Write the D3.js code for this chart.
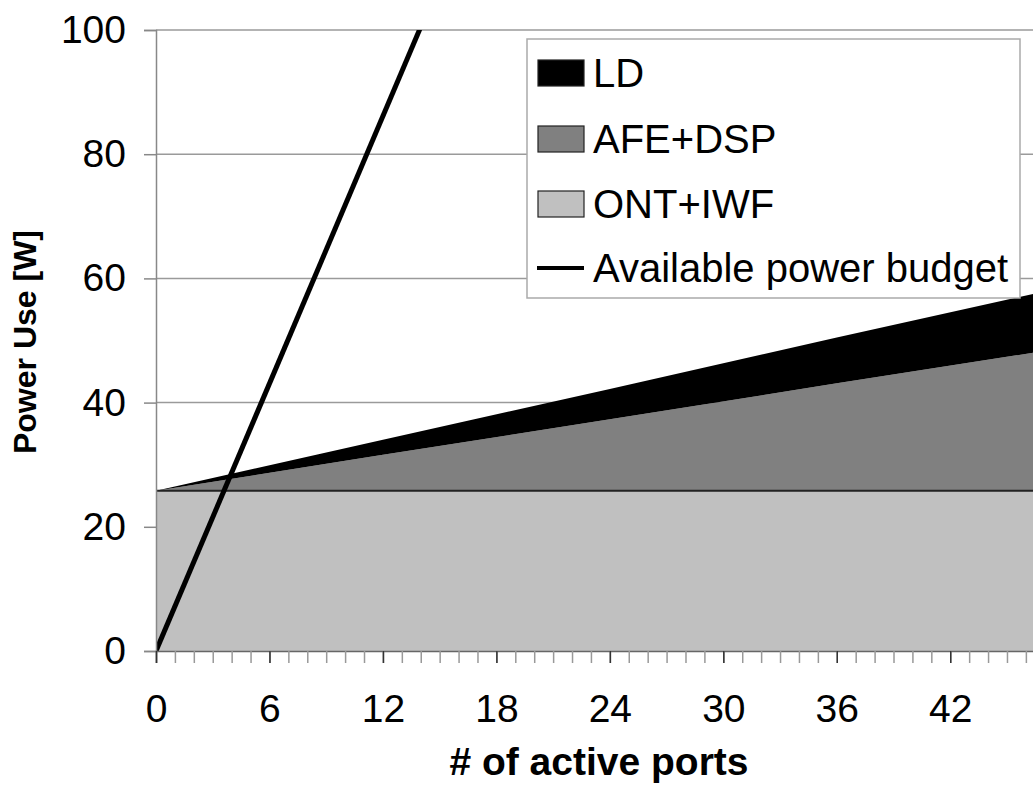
<!DOCTYPE html>
<html>
<head>
<meta charset="utf-8">
<title>Power use vs active ports</title>
<style>
  body { margin: 0; background: #fff; }
  svg { display: block; font-family: "Liberation Sans", Arial, sans-serif; }
</style>
<script src="https://cdn.jsdelivr.net/npm/d3@7"></script>
</head>
<body>
<svg id="chart" width="1033" height="787"></svg>
<script>
// values
var ports  = [0, 12, 24, 36, 48];
var ontIwf = [25.8, 25.8, 25.8, 25.8, 25.8];
var afeDsp = [0, 5.8, 11.5, 17.3, 23.0];
var ld     = [0, 2.4, 4.9, 7.4, 9.8];
var budgetPorts = [0, 14];
var budget      = [0, 100.5];
var xTicks = [0, 6, 12, 18, 24, 30, 36, 42];
var yTicks = [0, 20, 40, 60, 80, 100];
var legendNames  = ["LD", "AFE+DSP", "ONT+IWF", "Available power budget"];
var legendColors = ["#000000", "#808080", "#c0c0c0"];

var svg = d3.select("#chart");
var x = d3.scaleLinear().domain([0, 48]).range([156, 1063.7]);
var y = d3.scaleLinear().domain([0, 100]).range([651, 30]);

svg.append("clipPath").attr("id", "plot")
  .append("rect").attr("x", 156).attr("y", 30).attr("width", 910).attr("height", 621);

// gridlines
svg.append("g").selectAll("line").data(yTicks.slice(1)).join("line")
  .attr("x1", 156).attr("x2", 1033)
  .attr("y1", d => y(d)).attr("y2", d => y(d))
  .attr("stroke", "#9a9a9a").attr("stroke-width", 1.5);

// stacked areas
var rows = ports.map((p, i) => ({ p: p, ont: ontIwf[i], afe: afeDsp[i], ld: ld[i] }));
var stack = d3.stack().keys(["ont", "afe", "ld"])(rows);
var area = d3.area().x(d => x(d.data.p)).y0(d => y(d[0])).y1(d => y(d[1]));
var fills = { ont: "#c0c0c0", afe: "#808080", ld: "#000000" };

var g = svg.append("g").attr("clip-path", "url(#plot)");
g.selectAll("path.area").data(stack).join("path")
  .attr("class", "area")
  .attr("fill", d => fills[d.key])
  .attr("d", area);

// dark edge on top of ONT+IWF
g.append("path")
  .attr("fill", "none").attr("stroke", "#222").attr("stroke-width", 2)
  .attr("d", d3.line().x(d => x(d.data.p)).y(d => y(d[1]))(stack[0]));

// available power budget
g.append("path")
  .attr("fill", "none").attr("stroke", "#000").attr("stroke-width", 5)
  .attr("d", d3.line()(budgetPorts.map((p, i) => [x(p), y(budget[i])])));

// y axis
var yAxis = svg.append("g").attr("transform", "translate(156,0)")
  .call(d3.axisLeft(y).tickValues(yTicks).tickSize(12).tickPadding(18));
yAxis.select(".domain").attr("stroke", "#888").attr("stroke-width", 1.5);
yAxis.selectAll(".tick line").attr("stroke", "#888").attr("stroke-width", 1.5);
yAxis.selectAll("text").attr("font-size", 39).attr("fill", "#000")
  .attr("font-family", "Liberation Sans, Arial, sans-serif");

// x axis: minor ticks every port, labels every 6
var xMinor = svg.append("g").attr("transform", "translate(0,651)")
  .call(d3.axisBottom(x).tickValues(d3.range(0, 49)).tickSize(12).tickFormat(""));
xMinor.select(".domain").attr("stroke", "#666").attr("stroke-width", 1.5);
xMinor.selectAll(".tick line").attr("stroke", "#999").attr("stroke-width", 1.5);

var xAxis = svg.append("g").attr("transform", "translate(0,651)")
  .call(d3.axisBottom(x).tickValues(xTicks).tickSize(12).tickPadding(31));
xAxis.select(".domain").remove();
xAxis.selectAll(".tick line").attr("stroke", "#333").attr("stroke-width", 1.5);
xAxis.selectAll("text").attr("font-size", 39).attr("fill", "#000")
  .attr("font-family", "Liberation Sans, Arial, sans-serif");

// titles
svg.append("text")
  .attr("x", 599).attr("y", 775).attr("text-anchor", "middle")
  .attr("font-size", 39).attr("font-weight", "bold")
  .text("# of active ports");
svg.append("text")
  .attr("transform", "translate(36,342) rotate(-90)").attr("text-anchor", "middle")
  .attr("font-size", 32).attr("font-weight", "bold")
  .text("Power Use [W]");

// legend
var leg = svg.append("g");
leg.append("rect").attr("x", 527).attr("y", 39).attr("width", 493).attr("height", 259)
  .attr("fill", "#fff").attr("stroke", "#aaa").attr("stroke-width", 1.5);
var rowY = [73, 139, 204, 268];
legendNames.forEach((name, i) => {
  if (i < 3) {
    leg.append("rect").attr("x", 538).attr("y", rowY[i] - 13).attr("width", 46).attr("height", 26)
      .attr("fill", legendColors[i]).attr("stroke", "#222").attr("stroke-width", 1.2);
  } else {
    leg.append("line").attr("x1", 537).attr("x2", 584).attr("y1", rowY[i]).attr("y2", rowY[i])
      .attr("stroke", "#000").attr("stroke-width", 4);
  }
  leg.append("text").attr("x", 593).attr("y", rowY[i]).attr("dy", "0.36em")
    .attr("font-size", 40).text(name);
});
</script>
</body>
</html>
